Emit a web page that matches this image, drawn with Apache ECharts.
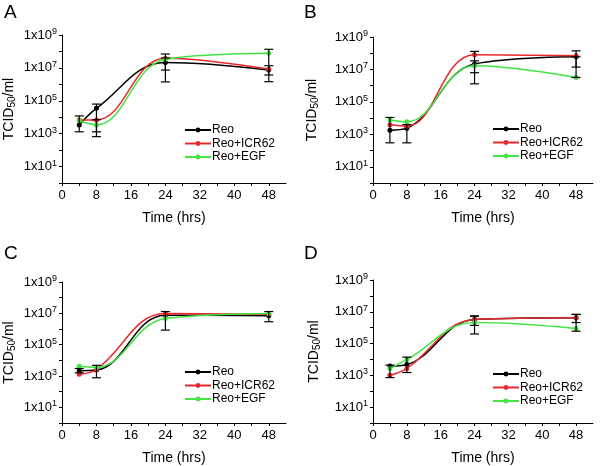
<!DOCTYPE html>
<html><head><meta charset="utf-8">
<script src="https://cdn.jsdelivr.net/npm/echarts@6/dist/echarts.min.js"></script>
<style>html,body{margin:0;padding:0;background:#fff}#c{width:600px;height:466px}</style>
</head><body><div id="c"></div>
<script>
// ---- data ----
const panelLetters = ['A', 'B', 'C', 'D'];
const seriesNames = ['Reo', 'Reo+ICR62', 'Reo+EGF'];
const times = [4, 8, 24, 48];
const xTickValues = [0, 8, 16, 24, 32, 40, 48];

// TCID50/ml values at each time point
const A_reo   = [3.4e3, 3.5e4, 2.1e7, 7.4e6];
const A_icr62 = [6.8e3, 6.8e3, 3.8e7, 8.3e6];
const A_egf   = [6.3e3, 3.4e3, 3.3e7, 7.8e7];
const B_reo   = [1.8e3, 2.4e3, 2.2e7, 6.0e7];
const B_icr62 = [3.9e3, 3.2e3, 8.0e7, 6.9e7];
const B_egf   = [7.6e3, 5.9e3, 1.7e7, 3.2e6];
const C_reo   = [2.2e3, 2.4e3, 7.6e6, 7.0e6];
const C_icr62 = [1.3e3, 2.6e3, 9.7e6, 8.7e6];
const C_egf   = [4.2e3, 3.6e3, 4.7e6, 9.7e6];
const D_reo   = [3.8e3, 4.8e3, 3.3e6, 4.2e6];
const D_icr62 = [1.0e3, 2.7e3, 3.3e6, 4.2e6];
const D_egf   = [2.7e3, 9.8e3, 2.1e6, 8.8e5];

// error bars: [time, low, high]
const A_err = [[4, 1.3e3, 1.2e4], [8, 1.3e3, 6.3e4], [8, 6.6e2, 7e3], [24, 1.4e6, 7e7], [24, 7.4e6, 4e7], [48, 1.45e6, 1.35e8], [48, 3.7e6, 1.35e7]];
const B_err = [[4, 3e2, 1.1e4], [8, 3e2, 4e3], [24, 1.3e6, 1.3e8], [24, 6.3e6, 3.4e7], [48, 3.2e6, 1.4e8], [48, 1.4e7, 6e7]];
const C_err = [[4, 1.6e3, 3e3], [8, 7.7e2, 4.8e3], [24, 8.5e5, 1.3e7], [48, 2.9e6, 1.3e7]];
const D_err = [[4, 7.2e2, 4.4e3], [8, 1.5e3, 1.4e4], [24, 4e5, 5.4e6], [24, 1.4e6, 5.4e6], [48, 6e5, 6.8e6], [48, 2.1e6, 6.8e6]];

const panelSeries = [
  [A_reo, A_icr62, A_egf],
  [B_reo, B_icr62, B_egf],
  [C_reo, C_icr62, C_egf],
  [D_reo, D_icr62, D_egf]
];
const panelErr = [A_err, B_err, C_err, D_err];

// ---- layout ----
const colors = ['#000000', '#e8282c', '#43e443'];
const FONT = '"Liberation Sans", Arial, sans-serif';
const grids = [
  {left: 62, top: 35, width: 224, height: 148},
  {left: 373, top: 37, width: 220, height: 146},
  {left: 62, top: 282, width: 224, height: 144},
  {left: 373, top: 280, width: 220, height: 146}
];
const yNameGaps = [45, 53, 45, 51];
const legendPos = [{left: 179, top: 119}, {left: 487, top: 118}, {left: 179, top: 361}, {left: 487, top: 363}];
const letterPos = [{left: -1, top: -2}, {left: 299, top: -2}, {left: -1, top: 239}, {left: 299, top: 239}];

const chart = echarts.init(document.getElementById('c'), null, {renderer: 'canvas'});

const option = {
  animation: false,
  backgroundColor: '#fff',
  textStyle: {fontFamily: FONT},
  title: panelLetters.map((t, i) => ({
    text: t, left: letterPos[i].left, top: letterPos[i].top,
    textStyle: {fontSize: 19, fontWeight: 'normal', color: '#000', fontFamily: FONT}
  })),
  legend: legendPos.map(p => ({
    data: seriesNames, orient: 'vertical', left: p.left, top: p.top,
    itemWidth: 26, itemHeight: 6, itemGap: 1.5,
    textStyle: {fontSize: 12, color: '#000', fontFamily: FONT, padding: [0, 0, 0, -4]}
  })),
  grid: grids,
  xAxis: grids.map((g, i) => ({
    type: 'value', gridIndex: i, min: 0, max: 52, interval: 4,
    name: 'Time (hrs)', nameLocation: 'middle', nameGap: 28,
    nameTextStyle: {fontSize: 14, color: '#000', fontFamily: FONT},
    axisLine: {show: true, lineStyle: {color: '#000', width: 1}},
    axisTick: {show: true, length: 3, lineStyle: {color: '#000'}},
    axisLabel: {
      fontSize: 13, color: '#000', margin: 6, fontFamily: FONT,
      showMaxLabel: false,
      formatter: v => (xTickValues.indexOf(v) >= 0 ? String(v) : '')
    },
    splitLine: {show: false}
  })),
  yAxis: grids.map((g, i) => ({
    type: 'log', logBase: 10, gridIndex: i, min: 1, max: 1e9, splitNumber: 9,
    name: 'TCID{sub|50}/ml', nameLocation: 'middle', nameGap: yNameGaps[i], nameRotate: 90,
    nameTextStyle: {fontSize: 14, color: '#000', fontFamily: FONT,
      rich: {sub: {fontSize: 10, color: '#000', fontFamily: FONT, padding: [6, 0, 0, 0], verticalAlign: 'bottom'}}},
    axisLine: {show: true, lineStyle: {color: '#000', width: 1}},
    axisTick: {show: true, length: 3, lineStyle: {color: '#000'}},
    axisLabel: {
      fontSize: 13, color: '#000', margin: 5, fontFamily: FONT,
      formatter: v => {
        const e = Math.round(Math.log10(v));
        return e % 2 === 1 ? '1x10{sup|' + e + '}' : '';
      },
      rich: {sup: {fontSize: 9, color: '#000', fontFamily: FONT, padding: [0, 0, 7, 0], verticalAlign: 'top'}}
    },
    splitLine: {show: false}
  })),
  series: []
};

panelSeries.forEach((ps, p) => {
  ps.forEach((vals, s) => {
    option.series.push({
      type: 'line', name: seriesNames[s], xAxisIndex: p, yAxisIndex: p,
      data: times.map((t, k) => [t, vals[k]]),
      smooth: 0.4, symbol: 'circle', symbolSize: 5,
      lineStyle: {color: colors[s], width: 1.5},
      itemStyle: {color: colors[s]},
      z: 3
    });
  });
  option.series.push({
    type: 'custom', name: 'err' + p, xAxisIndex: p, yAxisIndex: p,
    data: panelErr[p],
    encode: {x: 0, y: [1, 2]},
    z: 4,
    renderItem: (params, api) => {
      const x = api.value(0);
      const lo = api.coord([x, api.value(1)]);
      const hi = api.coord([x, api.value(2)]);
      const w = 4.5;
      const st = {stroke: '#000', lineWidth: 1.2};
      return {type: 'group', children: [
        {type: 'line', shape: {x1: lo[0], y1: lo[1], x2: hi[0], y2: hi[1]}, style: st},
        {type: 'line', shape: {x1: lo[0] - w, y1: lo[1], x2: lo[0] + w, y2: lo[1]}, style: st},
        {type: 'line', shape: {x1: hi[0] - w, y1: hi[1], x2: hi[0] + w, y2: hi[1]}, style: st}
      ]};
    }
  });
});

chart.setOption(option);
</script>
</body></html>
